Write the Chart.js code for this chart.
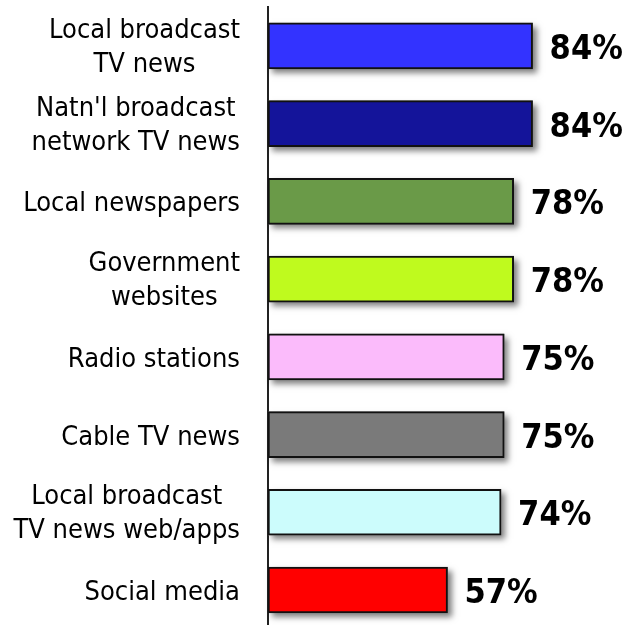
<!DOCTYPE html>
<html lang="en">
<head>
    <meta charset="UTF-8">
    <title>News source trust</title>
    <script src="https://cdn.jsdelivr.net/npm/chart.js"></script>
    <style>
        html, body { margin: 0; padding: 0; background: #fff; }
        #wrap { width: 631px; height: 625px; }
    </style>
</head>
<body>
    <div id="wrap"><canvas id="sourceChart"></canvas></div>
    <script>
        // categories, top to bottom
        const categories = [
            ['Local broadcast', 'TV news'],
            ["Natn'l broadcast", 'network TV news'],
            ['Local newspapers'],
            ['Government', 'websites'],
            ['Radio stations'],
            ['Cable TV news'],
            ['Local broadcast', 'TV news web/apps'],
            ['Social media']
        ];
        const percents = [84, 84, 78, 78, 75, 75, 74, 57];
        const barColors = ['#3333FF', '#14149A', '#6A9A48', '#BFFA1E',
                           '#FBBBFB', '#7A7A7A', '#CCFCFC', '#FF0000'];

        const labelFont = '27px "DejaVu Sans Condensed", "DejaVu Sans", sans-serif';
        const valueFont = 'bold 34px "DejaVu Sans Condensed", "DejaVu Sans", sans-serif';

        // soft drop shadow under the bars (bar elements clip themselves,
        // so the shadow is cast by a rect drawn underneath each bar)
        const barShadow = {
            id: 'barShadow',
            beforeDatasetsDraw(chart) {
                const ctx = chart.ctx;
                ctx.save();
                ctx.shadowColor = 'rgba(0,0,0,0.5)';
                ctx.shadowBlur = 6;
                ctx.shadowOffsetX = 4;
                ctx.shadowOffsetY = 4;
                ctx.fillStyle = '#999';
                chart.getDatasetMeta(0).data.forEach(bar => {
                    const { x, y, base, height } = bar.getProps(['x', 'y', 'base', 'height'], true);
                    ctx.fillRect(base, y - height / 2, x - base, height);
                });
                ctx.restore();
            }
        };

        // category names (right aligned block, lines centred) and value labels
        const textLabels = {
            id: 'textLabels',
            afterDraw(chart) {
                const ctx = chart.ctx;
                const yScale = chart.scales.y;
                ctx.save();
                ctx.fillStyle = '#000';
                ctx.textBaseline = 'alphabetic';

                ctx.font = labelFont;
                ctx.textAlign = 'center';
                categories.forEach((lines, i) => {
                    const cy = yScale.getPixelForValue(i);
                    const w = Math.max(...lines.map(l => ctx.measureText(l).width));
                    const cx = 240 - w / 2;
                    if (lines.length === 1) {
                        ctx.fillText(lines[0], cx, cy + 10);
                    } else {
                        ctx.fillText(lines[0], cx, cy - 8);
                        ctx.fillText(lines[1], cx, cy + 26);
                    }
                });

                ctx.font = valueFont;
                ctx.textAlign = 'left';
                chart.getDatasetMeta(0).data.forEach((bar, i) => {
                    ctx.fillText(percents[i] + '%', bar.x + 17, bar.y + 13);
                });
                ctx.restore();
            }
        };

        const ctx = document.getElementById('sourceChart').getContext('2d');
        const chart = new Chart(ctx, {
            type: 'bar',
            data: {
                datasets: [{
                    data: percents.map((v, i) => ({ x: v, y: i })),
                    backgroundColor: barColors,
                    borderColor: '#111',
                    borderWidth: 2,
                    borderSkipped: false,
                    barThickness: 46
                }]
            },
            options: {
                indexAxis: 'y',
                responsive: true,
                maintainAspectRatio: false,
                animation: false,
                layout: {
                    padding: { left: 268, right: 48, top: 7, bottom: 0 }
                },
                plugins: {
                    legend: { display: false },
                    tooltip: { enabled: false }
                },
                scales: {
                    x: {
                        type: 'linear',
                        display: false,
                        min: 0,
                        max: 100
                    },
                    y: {
                        type: 'linear',
                        reverse: true,
                        offset: false,
                        min: -0.5,
                        max: 7.45,
                        grid: { display: false, drawTicks: false, offset: false },
                        ticks: { display: false },
                        border: { display: true, color: '#222', width: 2 }
                    }
                }
            },
            plugins: [barShadow, textLabels]
        });
    </script>
</body>
</html>
